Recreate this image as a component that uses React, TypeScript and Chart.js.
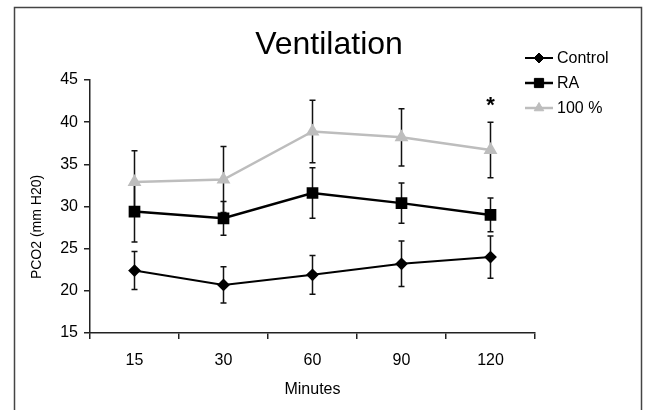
import { useEffect, useRef } from "react";
import { Chart, registerables } from "chart.js";
import { drawPoint } from "chart.js/helpers";

Chart.register(...registerables);

const minutes = ["15", "30", "60", "90", "120"];
const seriesNames = ["Control", "RA", "100 %"];
const control = [22.4, 20.7, 21.9, 23.2, 24.0];
const controlErr = [2.25, 2.15, 2.3, 2.7, 2.5];
const ra = [29.4, 28.6, 31.6, 30.4, 29.0];
const raErr = [3.6, 2.0, 3.0, 2.4, 2.0];
const oxygen = [32.9, 33.2, 38.9, 38.2, 36.7];
const oxygenErr = [3.7, 3.9, 3.7, 3.4, 3.3];
const significance = ["", "", "", "", "*"];
const yTicks = [15, 20, 25, 30, 35, 40, 45];

const FONT = "'Liberation Sans', Arial, sans-serif";
const errors = [controlErr, raErr, oxygenErr];

const extras = {
  id: "extras",
  beforeDraw(chart: any) {
    const { ctx } = chart;
    ctx.save();
    ctx.fillStyle = "#fff";
    ctx.fillRect(0, 0, chart.width, chart.height);
    ctx.strokeStyle = "#444";
    ctx.lineWidth = 1.5;
    ctx.strokeRect(14.5, 7.5, 627, 420);
    ctx.restore();
  },
  beforeDatasetsDraw(chart: any) {
    const { ctx } = chart;
    const y = chart.scales.y;
    ctx.save();
    ctx.strokeStyle = "#111";
    ctx.lineWidth = 1.5;
    chart.data.datasets.forEach((ds: any, i: number) => {
      const meta = chart.getDatasetMeta(i);
      meta.data.forEach((pt: any, j: number) => {
        const v = ds.data[j];
        const e = errors[i][j];
        const top = y.getPixelForValue(v + e);
        const bot = y.getPixelForValue(v - e);
        ctx.beginPath();
        ctx.moveTo(pt.x, top);
        ctx.lineTo(pt.x, bot);
        ctx.moveTo(pt.x - 3, top);
        ctx.lineTo(pt.x + 3, top);
        ctx.moveTo(pt.x - 3, bot);
        ctx.lineTo(pt.x + 3, bot);
        ctx.stroke();
      });
    });
    ctx.restore();
  },
  afterDraw(chart: any) {
    const { ctx } = chart;
    const y = chart.scales.y;
    ctx.save();
    // title
    ctx.fillStyle = "#000";
    ctx.font = `32px ${FONT}`;
    ctx.textAlign = "center";
    ctx.textBaseline = "alphabetic";
    ctx.fillText("Ventilation", 329, 54);

    // y axis title
    ctx.save();
    ctx.translate(37, 227);
    ctx.rotate(-Math.PI / 2);
    ctx.font = `14px ${FONT}`;
    ctx.textBaseline = "middle";
    ctx.fillText("PCO2 (mm H20)", 0, 0);
    ctx.restore();

    // significance marks
    const meta = chart.getDatasetMeta(2);
    ctx.font = `bold 22px ${FONT}`;
    ctx.textBaseline = "middle";
    significance.forEach((s, j) => {
      if (!s) return;
      const top = y.getPixelForValue(oxygen[j] + oxygenErr[j]);
      ctx.fillText(s, meta.data[j].x, top - 16);
    });

    // legend
    ctx.font = `16px ${FONT}`;
    ctx.textAlign = "left";
    chart.data.datasets.forEach((ds: any, i: number) => {
      const ly = 58 + i * 25;
      ctx.strokeStyle = ds.borderColor;
      ctx.fillStyle = ds.borderColor;
      ctx.lineWidth = ds.borderWidth;
      ctx.beginPath();
      ctx.moveTo(525, ly);
      ctx.lineTo(553, ly);
      ctx.stroke();
      ctx.lineWidth = 1;
      drawPoint(ctx, { pointStyle: ds.pointStyle, radius: ds.pointRadius, rotation: 0, borderWidth: 1 }, 539, ly);
      ctx.fillStyle = "#000";
      ctx.fillText(ds.label, 557, ly + 1);
    });
    ctx.restore();
  },
};

export default function App() {
  const canvasRef = useRef<HTMLCanvasElement | null>(null);

  useEffect(() => {
    document.body.style.margin = "0";
    if (!canvasRef.current) return;
    Chart.defaults.font.family = FONT;
    Chart.defaults.color = "#000";

    const chart = new Chart(canvasRef.current, {
      type: "line",
      data: {
        labels: minutes,
        datasets: [
          {
            label: seriesNames[0],
            data: control,
            borderColor: "#000",
            backgroundColor: "#000",
            borderWidth: 2,
            pointStyle: "rectRot",
            pointRadius: 5,
            tension: 0,
          },
          {
            label: seriesNames[1],
            data: ra,
            borderColor: "#000",
            backgroundColor: "#000",
            borderWidth: 2.5,
            pointStyle: "rect",
            pointRadius: 6.5,
            tension: 0,
          },
          {
            label: seriesNames[2],
            data: oxygen,
            borderColor: "#bdbdbd",
            backgroundColor: "#bdbdbd",
            borderWidth: 2.5,
            pointStyle: "triangle",
            pointRadius: 5.5,
            tension: 0,
          },
        ],
      },
      options: {
        responsive: false,
        animation: false,
        layout: { padding: { left: 0, right: 112, top: 80, bottom: 0 } },
        plugins: {
          legend: { display: false },
          title: { display: false },
          tooltip: { enabled: false },
        },
        scales: {
          x: {
            offset: true,
            grid: {
              offset: true,
              drawOnChartArea: false,
              tickLength: 6,
              color: "#222",
              lineWidth: 1.5,
            },
            border: { display: true, color: "#222", width: 1.5 },
            ticks: { font: { size: 16 }, padding: 12, color: "#000" },
            title: {
              display: true,
              text: "Minutes",
              font: { size: 16 },
              padding: { top: 0, bottom: 11 },
              color: "#000",
            },
            afterFit: (scale: any) => {
              scale.height = 77;
            },
          },
          y: {
            min: yTicks[0],
            max: yTicks[yTicks.length - 1],
            afterBuildTicks: (scale: any) => {
              scale.ticks = yTicks.map((v) => ({ value: v }));
            },
            grid: {
              drawOnChartArea: false,
              tickLength: 6,
              color: "#222",
              lineWidth: 1.5,
            },
            border: { display: true, color: "#222", width: 1.5 },
            ticks: { font: { size: 16 }, padding: 6, color: "#000" },
            afterFit: (scale: any) => {
              scale.width = 90;
            },
          },
        },
      },
      plugins: [extras],
    });

    return () => chart.destroy();
  }, []);

  return (
    <div style={{ width: 647, height: 410 }}>
      <canvas ref={canvasRef} width={647} height={410} />
    </div>
  );
}
